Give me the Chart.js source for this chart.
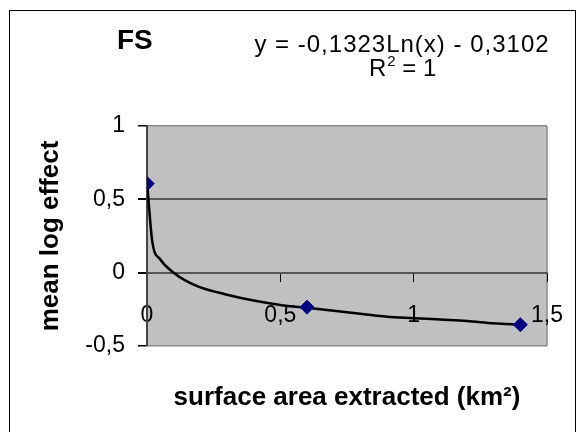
<!DOCTYPE html>
<html>
<head>
<meta charset="utf-8">
<script src="https://cdn.jsdelivr.net/npm/chart.js@4.4.0/dist/chart.umd.min.js"></script>
<style>
html, body { margin: 0; padding: 0; background: #fff; }
canvas { display: block; }
</style>
</head>
<body>
<canvas id="fsChart" width="584" height="432"></canvas>
<script>
// measured points (x = surface area, y = mean log effect)
const pointX = [0.001, 0.6, 1.4];
const pointY = [0.607, -0.235, -0.355];

// trendline
const trendX = [0.001, 0.02, 0.05, 0.1, 0.15, 0.2, 0.3, 0.4, 0.5, 0.6, 0.7, 0.8, 0.9, 1.0, 1.1, 1.2, 1.3, 1.4];
const trendY = [0.60, 0.21, 0.09, 0.00, -0.06, -0.10, -0.15, -0.19, -0.22, -0.24, -0.26, -0.28, -0.30, -0.31, -0.32, -0.33, -0.345, -0.355];

const xTicks = [0, 0.5, 1, 1.5];
const yTicks = [-0.5, 0, 0.5, 1];

const chartTitle = 'FS';
const equationText = 'y = -0,1323Ln(x) - 0,3102';
const r2Parts = ['R', '2', ' = 1'];
const xTitle = 'surface area extracted (km²)';
const yTitle = 'mean log effect';

const FONT = '"Liberation Sans", Arial, sans-serif';
const fmt = v => String(v).replace('.', ',');

// gray plot area, outer frame and the free texts
const excelFrame = {
    id: 'excelFrame',
    beforeDraw(chart) {
        const { ctx, chartArea: a } = chart;
        ctx.save();
        ctx.fillStyle = '#fff';
        ctx.fillRect(0, 0, chart.width, chart.height);
        ctx.fillStyle = '#c0c0c0';
        ctx.fillRect(a.left, a.top, a.right - a.left, a.bottom - a.top);
        ctx.strokeStyle = '#8a8a8a';
        ctx.lineWidth = 1.5;
        ctx.beginPath();
        ctx.moveTo(a.right, a.top);
        ctx.lineTo(a.right, a.bottom);
        ctx.stroke();
        ctx.restore();
    },
    afterDraw(chart) {
        const { ctx, chartArea: a } = chart;
        ctx.save();
        ctx.strokeStyle = '#000';
        ctx.lineWidth = 1;
        ctx.strokeRect(9.5, 10.5, 566, 440);

        ctx.fillStyle = '#000';
        ctx.textBaseline = 'alphabetic';
        ctx.textAlign = 'left';
        ctx.font = 'bold 28px ' + FONT;
        ctx.fillText(chartTitle, 117, 49);

        ctx.textAlign = 'center';
        ctx.font = '24px ' + FONT;
        ctx.letterSpacing = '1px';
        ctx.fillText(equationText, 402, 52);
        ctx.letterSpacing = '0px';

        // R² = 1 with a raised small 2
        ctx.textAlign = 'left';
        let x = 369;
        ctx.font = '24px ' + FONT;
        ctx.fillText(r2Parts[0], x, 76);
        x += ctx.measureText(r2Parts[0]).width + 1;
        ctx.font = '15px ' + FONT;
        ctx.fillText(r2Parts[1], x, 66);
        x += ctx.measureText(r2Parts[1]).width;
        ctx.font = '24px ' + FONT;
        ctx.fillText(r2Parts[2], x, 76);

        ctx.textAlign = 'center';
        ctx.font = 'bold 26px ' + FONT;
        ctx.fillText(xTitle, (a.left + a.right) / 2, 405);

        ctx.translate(58, (a.top + a.bottom) / 2);
        ctx.rotate(-Math.PI / 2);
        ctx.fillText(yTitle, 0, 0);
        ctx.restore();
    }
};

const ctx = document.getElementById('fsChart').getContext('2d');
new Chart(ctx, {
    type: 'scatter',
    data: {
        datasets: [
            {
                label: 'data',
                data: pointX.map((x, i) => ({ x: x, y: pointY[i] })),
                pointStyle: 'rectRot',
                pointRadius: 7,
                backgroundColor: '#000080',
                borderColor: '#000080',
                borderWidth: 1,
                showLine: false
            },
            {
                label: 'trend',
                data: trendX.map((x, i) => ({ x: x, y: trendY[i] })),
                showLine: true,
                borderColor: '#000',
                borderWidth: 2.5,
                pointRadius: 0,
                cubicInterpolationMode: 'monotone',
                fill: false
            }
        ]
    },
    options: {
        responsive: false,
        animation: false,
        devicePixelRatio: 1,
        layout: { padding: { left: 0, top: 126, right: 26, bottom: 86 } },
        plugins: {
            legend: { display: false },
            tooltip: { enabled: false }
        },
        scales: {
            x: {
                type: 'linear',
                position: { y: 0 },
                min: 0,
                max: 1.5,
                afterBuildTicks: s => { s.ticks = xTicks.map(v => ({ value: v })); },
                ticks: {
                    callback: v => fmt(v),
                    color: '#000',
                    font: { family: FONT, size: 23 },
                    padding: 21,
                    maxRotation: 0
                },
                grid: { drawOnChartArea: false, tickLength: 8, color: '#000', lineWidth: 1 },
                border: { color: '#555', width: 2 }
            },
            y: {
                type: 'linear',
                min: -0.5,
                max: 1,
                afterBuildTicks: s => { s.ticks = yTicks.map(v => ({ value: v })); },
                afterFit: s => { s.width = 147; },
                ticks: {
                    callback: v => fmt(v),
                    color: '#000',
                    font: { family: FONT, size: 23 },
                    padding: 13
                },
                grid: {
                    tickLength: 9,
                    tickColor: '#000',
                    color: c => (c.tick && (c.tick.value === 0.5 || c.tick.value === 0)) ? '#5a5a5a' : '#8a8a8a',
                    lineWidth: c => (c.tick && (c.tick.value === 0.5 || c.tick.value === 0)) ? 2 : 1.5
                },
                border: { color: '#444', width: 2 }
            }
        }
    },
    plugins: [excelFrame]
});
</script>
</body>
</html>
